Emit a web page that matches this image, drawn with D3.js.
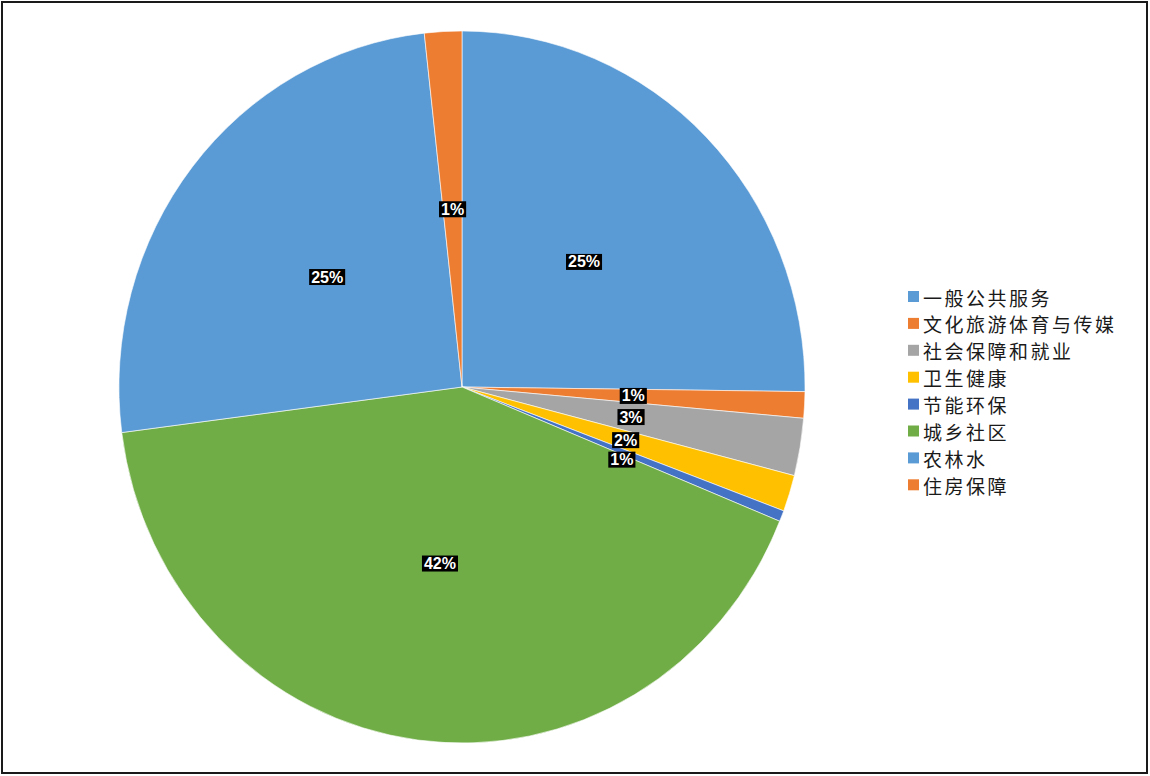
<!DOCTYPE html>
<html>
<head>
<meta charset="utf-8">
<script src="https://cdn.jsdelivr.net/npm/d3@7"></script>
<style>
  body { margin: 0; background: #fff; }
  svg { display: block; }
</style>
</head>
<body>
<div id="chart"></div>
<script>
// categories, shares and the label texts printed on the slices
var categories = ["一般公共服务", "文化旅游体育与传媒", "社会保障和就业", "卫生健康", "节能环保", "城乡社区", "农林水", "住房保障"];
var values = [25.2, 1.2, 2.6, 1.65, 0.5, 41.8, 25.3, 1.75];
var valueLabels = ["25%", "1%", "3%", "2%", "1%", "42%", "25%", "1%"];
var colors = ["#5B9BD5", "#ED7D31", "#A5A5A5", "#FFC000", "#4472C4", "#70AD47", "#5B9BD5", "#ED7D31"];

var width = 1150, height = 776;

var svg = d3.select("#chart")
  .append("svg")
  .attr("width", width)
  .attr("height", height);

// outer frame
svg.append("rect")
  .attr("x", 2).attr("y", 2)
  .attr("width", width - 5).attr("height", height - 5)
  .attr("fill", "#fff")
  .attr("stroke", "#1a1a1a")
  .attr("stroke-width", 2);

// the pie is a little taller than wide in the picture
var cx = 462, cy = 387, rx = 343, ry = 356;

var pie = d3.pie().sort(null).value(function(d) { return d; });
var arcs = pie(values);

var arc = d3.arc().innerRadius(0).outerRadius(1);

var g = svg.append("g")
  .attr("transform", "translate(" + cx + "," + cy + ") scale(" + rx + "," + ry + ")");

g.selectAll("path")
  .data(arcs)
  .enter()
  .append("path")
  .attr("d", arc)
  .attr("fill", function(d, i) { return colors[i]; })
  .attr("stroke", "#fff")
  .attr("stroke-width", 0.6)
  .attr("vector-effect", "non-scaling-stroke");

// data labels at half radius, pushed apart when they would overlap
var labelArc = d3.arc().innerRadius(0.5).outerRadius(0.5);
var pos = arcs.map(function(d) {
  var c = labelArc.centroid(d);
  return [cx + c[0] * rx, cy + c[1] * ry];
});
for (var i = 1; i < pos.length; i++) {
  var p = pos[i - 1], q = pos[i];
  if (Math.abs(q[0] - p[0]) < 40 && q[1] > p[1] && q[1] - p[1] < 19.5) {
    q[1] = p[1] + 19.5;
  }
}

var lg = svg.append("g");
arcs.forEach(function(d, i) {
  var x = pos[i][0], y = pos[i][1];
  var grp = lg.append("g");
  var t = grp.append("text")
    .attr("x", x).attr("y", y)
    .attr("text-anchor", "middle")
    .attr("dominant-baseline", "central")
    .attr("font-family", "Liberation Sans, Arial, sans-serif")
    .attr("font-weight", "bold")
    .attr("font-size", "16px")
    .attr("fill", "#fff")
    .text(valueLabels[i]);
  var b = t.node().getBBox();
  grp.insert("rect", "text")
    .attr("x", b.x - 2).attr("y", y - 8)
    .attr("width", b.width + 4).attr("height", 16)
    .attr("fill", "#000");
});

// legend
var legend = svg.append("g").attr("transform", "translate(908,297)");
var rows = legend.selectAll("g")
  .data(categories)
  .enter()
  .append("g")
  .attr("transform", function(d, i) { return "translate(0," + (i * 26.9) + ")"; });

rows.append("rect")
  .attr("x", 0).attr("y", -6)
  .attr("width", 11).attr("height", 11)
  .attr("fill", function(d, i) { return colors[i]; });

rows.append("text")
  .attr("x", 15)
  .attr("y", 0)
  .attr("dominant-baseline", "central")
  .attr("font-family", "Noto Sans CJK SC, sans-serif")
  .attr("font-size", "19px")
  .attr("letter-spacing", "2.5px")
  .attr("fill", "#1a1a1a")
  .text(function(d) { return d; });
</script>
</body>
</html>
